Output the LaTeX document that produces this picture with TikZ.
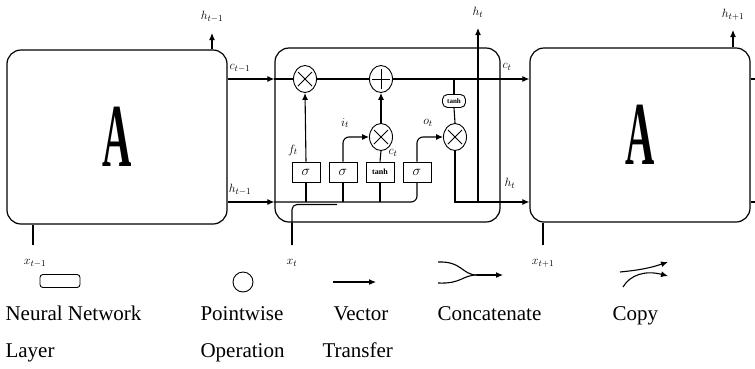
\documentclass[tikz,border=0pt]{standalone}
\usepackage{fontspec}
\usepackage{graphicx}
\setmainfont{Liberation Serif}
\usetikzlibrary{arrows.meta, shapes.geometric, positioning}
\newcommand{\lbl}[1]{\fontsize{13}{15}\selectfont$#1$}
\newcommand{\bigA}{\fontsize{90}{90}\selectfont\bfseries\scalebox{0.45}[1]{A}}
\tikzset{
  cell/.style={draw, line width=1.2pt, rounded corners=14pt, minimum height=174pt},
  gate/.style={draw, line width=0.9pt, minimum width=28pt, minimum height=20pt, inner sep=0pt, font=\fontsize{15}{16}\selectfont},
  tanhgate/.style={gate, font=\fontsize{8}{9}\selectfont\bfseries},
  squash/.style={draw, line width=0.9pt, rounded corners=5pt, minimum width=23pt, minimum height=13pt, inner sep=0pt, font=\fontsize{7}{8}\selectfont\bfseries},
  pw/.style={draw, ellipse, line width=0.9pt, minimum width=23pt, minimum height=27pt, inner sep=0pt},
  times/.style={pw, path picture={
    \draw[line width=0.8pt] ([shift={(-7pt,-7pt)}]path picture bounding box.center) -- ([shift={(7pt,7pt)}]path picture bounding box.center)
      ([shift={(-7pt,7pt)}]path picture bounding box.center) -- ([shift={(7pt,-7pt)}]path picture bounding box.center);}},
  plus/.style={pw, path picture={
    \draw[line width=0.8pt] ([shift={(-9pt,0pt)}]path picture bounding box.center) -- ([shift={(9pt,0pt)}]path picture bounding box.center)
      ([shift={(0pt,-10pt)}]path picture bounding box.center) -- ([shift={(0pt,10pt)}]path picture bounding box.center);}},
  vec/.style={-{Latex[length=7pt,width=6pt]}},
  legend/.style={font=\fontsize{21}{24}\selectfont, inner sep=0pt}
}
\begin{document}
\begin{tikzpicture}[x=1pt, y=-1pt, line width=1.1pt]
  \useasboundingbox (0,0) rectangle (755,368);
  % the three cells
  \node[cell, minimum width=220pt] (A0) at (117,137) {\bigA};
  \node[cell, minimum width=225pt] (A1) at (387.5,135) {};
  \node[cell, minimum width=220pt] (A2) at (640,135) {\bigA};

  % gates inside the middle cell
  \node[times] (ft) at (305,79) {};
  \node[plus] (add) at (381,79) {};
  \node[times] (it) at (381,137) {};
  \node[times] (ot) at (455,137) {};
  \node[squash] (tc) at (454,101) {tanh};
  \node[gate] (s1) at (306,172) {$\sigma$};
  \node[gate] (s2) at (343,172) {$\sigma$};
  \node[tanhgate] (g) at (380,172) {tanh};
  \node[gate] (s3) at (417,172) {$\sigma$};

  \coordinate (hbus) at (0,202);
  \coordinate (hprev) at (212,33);
  \coordinate (ht) at (478,28);
  \coordinate (hnext) at (733,30);
  \coordinate (xprev) at (33,245);
  \coordinate (xt) at (292,245);
  \coordinate (xnext) at (543,245);
  \coordinate (xjoin) at (337,204.5);
  \coordinate (cend) at (755,79);
  \coordinate (hend) at (755,202);

  % cell state
  \draw[vec] (A0.east |- ft) -- (A1.west |- ft);
  \draw (A1.west |- ft) -- (ft) -- (add);
  \draw[vec] (add) -- (A2.west |- add);
  \draw (A2.east |- ft) -- (cend);
  % hidden state and input
  \draw[vec] (A0.east |- hbus) -- (A1.west |- hbus);
  \draw[rounded corners=6pt] (A1.west |- hbus) -- (s3 |- hbus) -- (s3.south);
  \draw (s1 |- hbus) -- (s1.south);
  \draw (s2 |- hbus) -- (s2.south);
  \draw (g |- hbus) -- (g.south);
  \draw[rounded corners=5pt] (xt) |- (xjoin);
  \draw[vec] (ot.south) |- (A2.west |- hbus);
  \draw[vec] (ht |- hbus) -- (ht);
  \draw (A2.east |- hbus) -- (hend);
  % gate wiring
  \draw[vec] (s1.north) -- (ft.south);
  \draw[vec, rounded corners=6pt] (s2.north) |- (it.west);
  \draw (g.north) -- (it.south);
  \draw[vec] (it.north) -- (add.south);
  \draw[vec, rounded corners=6pt] (s3.north) |- (ot.west);
  \draw (tc |- ft) -- (tc.north);
  \draw (tc.south) -- (ot.north);
  % outer cells
  \draw[vec] (hprev |- A0.north) -- (hprev);
  \draw[vec] (hnext |- A2.north) -- (hnext);
  \draw (xprev) -- (xprev |- A0.south);
  \draw (xt) -- (xt |- A1.south);
  \draw (xnext) -- (xnext |- A2.south);

  % labels
  \node (l-hp) at (212,17) {\lbl{h_{t-1}}};
  \node (l-cp) at (240,68) {\lbl{c_{t-1}}};
  \node (l-hp2) at (240,190) {\lbl{h_{t-1}}};
  \node (l-ht) at (478,12) {\lbl{h_t}};
  \node (l-ct) at (507,67) {\lbl{c_t}};
  \node (l-ht2) at (510,183) {\lbl{h_t}};
  \node (l-hn) at (733,15) {\lbl{h_{t+1}}};
  \node (l-xp) at (35,263) {\lbl{x_{t-1}}};
  \node (l-xt) at (292,263) {\lbl{x_t}};
  \node (l-xn) at (543,263) {\lbl{x_{t+1}}};
  \node (l-f) at (293,150) {\lbl{f_t}};
  \node (l-i) at (345,123) {\lbl{i_t}};
  \node (l-c) at (393,153) {\lbl{c_t}};
  \node (l-o) at (428,123) {\lbl{o_t}};

  % legend
  \node[draw, line width=0.9pt, rounded corners=3pt, minimum width=40pt, minimum height=13pt] (nnl) at (60,281) {};
  \node[draw, circle, line width=0.9pt, minimum size=20pt, inner sep=0pt] (pwo) at (243,282) {};
  \coordinate (v0) at (333,282);
  \coordinate (v1) at (376,282);
  \draw[vec] (v0) -- (v1);
  \coordinate (ca) at (438,262);
  \coordinate (cb) at (438,283);
  \coordinate (cm) at (477,275);
  \coordinate (cc) at (503,275);
  \draw (ca) .. controls (462,261) and (462,275) .. (cm);
  \draw (cb) .. controls (462,284) and (462,275) .. (cm);
  \draw[vec] (cm) -- (cc);
  \coordinate (cp0) at (620,272);
  \coordinate (cp1) at (623,287);
  \coordinate (cpa) at (668,262);
  \coordinate (cpb) at (668,276);
  \draw[vec] (cp0) .. controls (640,270) and (650,268) .. (cpa);
  \draw[vec] (cp1) .. controls (630,275) and (645,270) .. (cpb);

  \node[legend, anchor=base west] (t1) at (5,320) {Neural Network};
  \node[legend, anchor=base west] (t2) at (5,357) {Layer};
  \node[legend, anchor=base west] (t3) at (200,320) {Pointwise};
  \node[legend, anchor=base west] (t4) at (200,357) {Operation};
  \node[legend, anchor=base west] (t5) at (333,320) {Vector};
  \node[legend, anchor=base west] (t6) at (322,357) {Transfer};
  \node[legend, anchor=base west] (t7) at (437,320) {Concatenate};
  \node[legend, anchor=base west] (t8) at (612,320) {Copy};
\end{tikzpicture}
\end{document}
